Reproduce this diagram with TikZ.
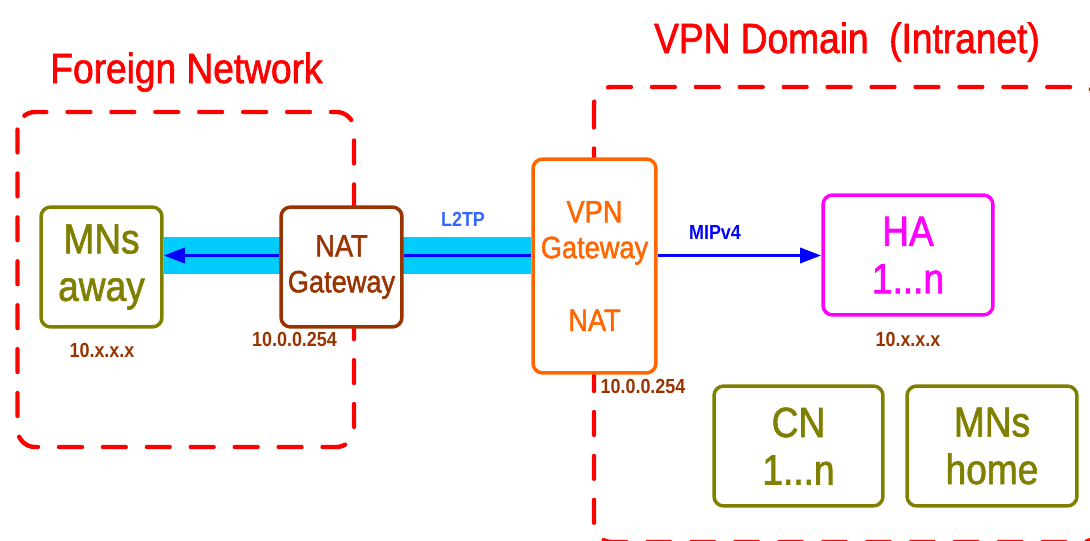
\documentclass[tikz,border=0pt]{standalone}
\usepackage{fontspec}
\setmainfont{Liberation Sans}[FakeStretch=0.88]
\newfontfamily\heavyfont{Liberation Sans}[FakeStretch=0.88,FakeBold=1.5]
\usetikzlibrary{arrows.meta,backgrounds}
\definecolor{alarm}{RGB}{255,0,0}
\definecolor{moss}{RGB}{128,128,0}
\definecolor{rust}{RGB}{153,51,0}
\definecolor{tangerine}{RGB}{255,102,0}
\definecolor{fuchsia}{RGB}{255,0,255}
\definecolor{sky}{RGB}{0,204,255}
\definecolor{wire}{RGB}{0,0,255}
\definecolor{tunnel}{RGB}{51,102,255}
\tikzset{
  >={Triangle[length=12pt,width=8.5pt]},
  unit/.style={draw=#1,text=#1,fill=white,line width=2pt,rounded corners=5.5pt,
    inner sep=0pt,align=center,minimum width=2.42cm,minimum height=2.4cm,
    font=\heavyfont\fontsize{24}{27}\selectfont},
  unit/.default=moss,
  mid/.style={font=\heavyfont\fontsize{17.6}{20.4}\selectfont},
  zone/.style={draw=alarm,line width=2.5pt,dash pattern=on 13pt off 12pt,
    line cap=round,rounded corners=10pt},
  heading/.style={text=alarm,anchor=base,font=\heavyfont\fontsize{24}{28}\selectfont},
  tag/.style={text=#1,font=\fontsize{11.6}{14}\selectfont\bfseries},
  tag/.default=rust,
  flow/.style={draw=wire,line width=2pt},
  band/.style={draw=sky,line width=21.5pt},
}
\begin{document}
\begin{tikzpicture}[x=0.02cm,y=-0.02cm]
  \useasboundingbox (0,0) rectangle (1090,541);
  \clip (0,0) rectangle (1090,541);
  % the two domains
  \draw[zone] (17.5,112) rectangle (354,447);
  \draw[zone] (594,87) rectangle (1100,542);
  \node[heading] (fntitle) at (186.5,83) {Foreign Network};
  \node[heading] (vpntitle) at (847,53) {VPN Domain\ \ (Intranet)};
  % hosts and gateways
  \node[unit] (mna) at (101.5,267) {MNs\\away};
  \node[unit=rust,mid] (nat) at (341.5,267) {NAT\\Gateway};
  \node[unit=tangerine,mid,minimum width=2.46cm,minimum height=4.28cm] (vpn) at (594.5,266)
    {VPN\\Gateway\\[21pt]NAT};
  \node[unit=fuchsia,minimum width=3.4cm] (ha) at (908,255) {HA\\1...n};
  \node[unit,minimum width=3.38cm] (cn) at (798.5,446) {CN\\1...n};
  \node[unit,minimum width=3.4cm] (mnh) at (992,446) {MNs\\home};
  % tunnel and links
  \coordinate (lane) at (0,255.5);
  \begin{scope}[on background layer]
    \draw[band] (mna.east |- lane) -- (vpn.west |- lane);
  \end{scope}
  \draw[flow] (vpn.west |- lane) -- (nat.east |- lane);
  \draw[flow,->] (nat.west |- lane) -- (mna.east |- lane);
  \draw[flow,->] (vpn.east |- lane) -- (ha.west |- lane);
  \node[tag=tunnel] (l2tp) at (463,219) {L2TP};
  \node[tag=wire] (mip) at (715,232) {MIPv4};
  % addresses
  \node[tag] (mnaip) at (102,350.5) {10.x.x.x};
  \node[tag] (natip) at (294.5,339.5) {10.0.0.254};
  \node[tag] (vpnip) at (643,386) {10.0.0.254};
  \node[tag] (haip) at (908,339) {10.x.x.x};
\end{tikzpicture}
\end{document}
